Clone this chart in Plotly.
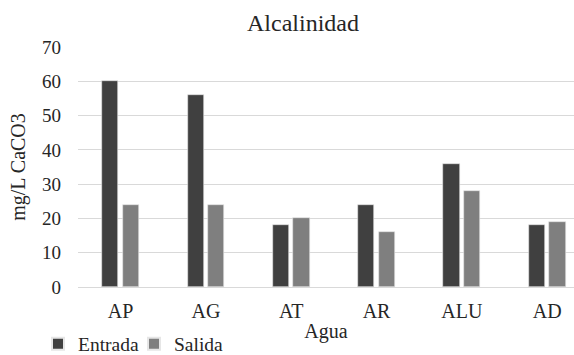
import plotly.graph_objects as go

categories = ["AP", "AG", "AT", "AR", "ALU", "AD"]
entrada = [60, 56, 18, 24, 36, 18]
salida = [24, 24, 20, 16, 28, 19]
y_ticks = [0, 10, 20, 30, 40, 50, 60, 70]

FONT = "Liberation Serif, Times New Roman, serif"
TXT = "#262626"

fig = go.Figure()
fig.add_trace(go.Bar(
    name="Entrada", x=categories, y=entrada,
    marker=dict(color="#404040", line=dict(color="#e6e6e6", width=0.6)),
    width=0.19, offset=-0.216,
))
fig.add_trace(go.Bar(
    name="Salida", x=categories, y=salida,
    marker=dict(color="#7f7f7f", line=dict(color="#e6e6e6", width=0.6)),
    width=0.19, offset=0.026,
))

fig.update_layout(
    width=574, height=355,
    paper_bgcolor="white", plot_bgcolor="white",
    margin=dict(l=78, r=0, t=47, b=68, autoexpand=False),
    font=dict(family=FONT, size=19, color=TXT),
    title=dict(text="Alcalinidad", x=303 / 574, xanchor="center", xref="container",
               y=1 - 23 / 355, yanchor="middle", yref="container",
               font=dict(family=FONT, size=24, color=TXT)),
    showlegend=True,
    legend=dict(orientation="h", x=(38 - 78) / 496, xanchor="left",
                y=-(344 - 287) / 240, yanchor="middle",
                font=dict(family=FONT, size=19.5, color=TXT),
                bgcolor="rgba(0,0,0,0)", entrywidth=51, itemsizing="constant",
                traceorder="normal"),
    bargap=0, bargroupgap=0,
)

fig.update_xaxes(
    type="category", range=[-0.5, -0.5 + (574 - 78) / 85.3],
    showgrid=False, showline=True, linecolor="#d9d9d9", linewidth=1,
    ticks="", tickfont=dict(family=FONT, size=20, color=TXT),
    ticklabelstandoff=6,
    title=dict(text="Agua", font=dict(family=FONT, size=20, color=TXT), standoff=2),
    fixedrange=True,
)
fig.update_yaxes(
    range=[0, 70], tickvals=y_ticks, showgrid=True, gridcolor="#d9d9d9", gridwidth=1,
    zeroline=False, showline=False, ticks="",
    tickfont=dict(family=FONT, size=19, color=TXT),
    ticklabelstandoff=16,
    title=dict(text="mg/L CaCO3", font=dict(family=FONT, size=20, color=TXT), standoff=11),
    fixedrange=True,
)

fig.write_html("out.html", config={"displayModeBar": False},
               post_script="document.body.style.margin='0';document.body.style.overflow='hidden';")
